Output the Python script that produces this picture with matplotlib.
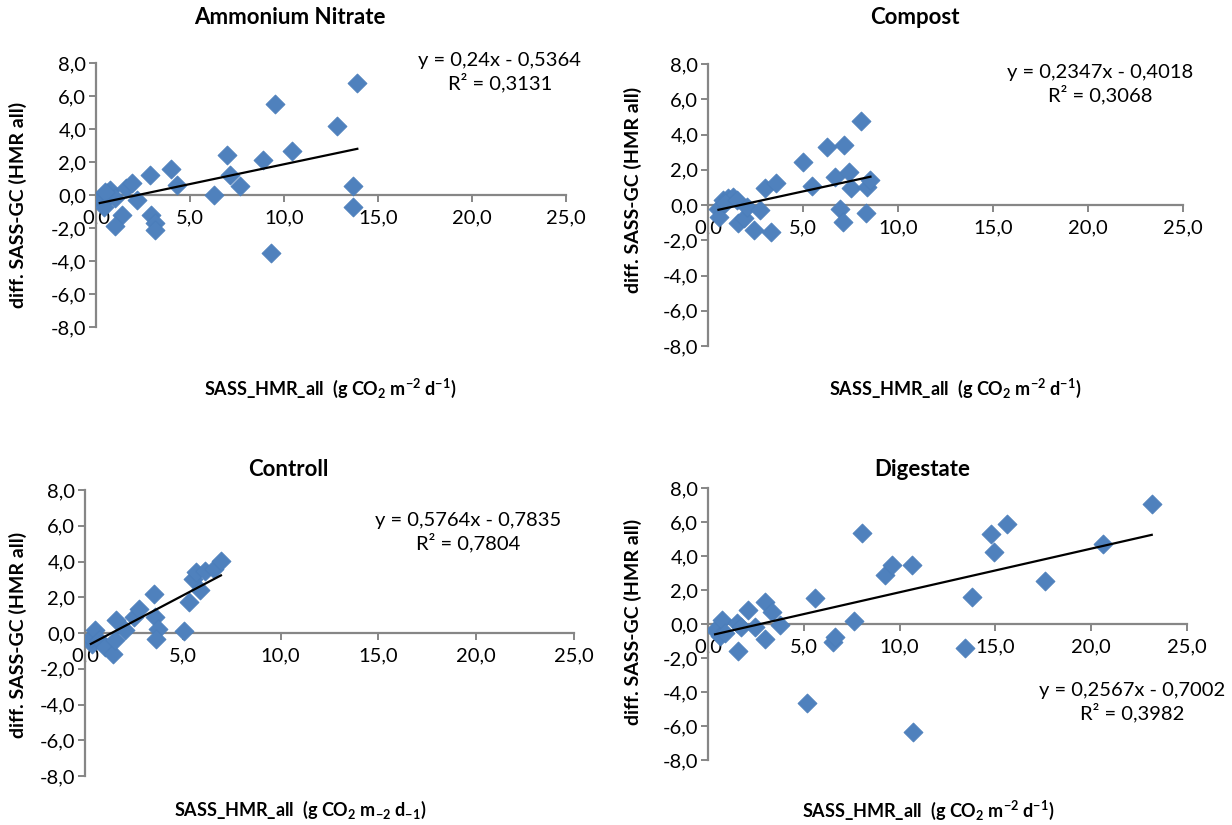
import matplotlib
matplotlib.use("Agg")
import matplotlib.pyplot as plt

plt.rcParams['font.family'] = ['Lato', 'DejaVu Sans']
plt.rcParams['mathtext.default'] = 'regular'

# data
titles = ["Ammonium Nitrate", "Compost", "Controll", "Digestate"]

an_x = [0.3, 0.2, 0.4, 0.6, 0.75, 1.0, 0.5, 1.4, 1.0, 1.6, 1.9, 2.2, 2.85, 2.9, 3.15, 3.15,
        4.0, 4.3, 6.3, 6.95, 7.15, 7.65, 8.9, 9.3, 9.5, 10.4, 12.8, 13.65, 13.65, 13.9]
an_y = [-0.5, -0.2, -0.7, 0.1, 0.3, -0.2, 0.2, -1.2, -1.9, 0.4, 0.7, -0.3, 1.2, -1.2, -1.7, -2.1,
        1.6, 0.6, 0.0, 2.4, 1.2, 0.55, 2.1, -3.5, 5.5, 2.65, 4.2, 0.55, -0.7, 6.8]

cp_x = [0.55, 0.6, 0.8, 1.05, 1.3, 0.9, 1.5, 1.6, 1.9, 2.05, 2.4, 2.75, 3.0, 3.3, 3.6, 5.0,
        5.45, 6.25, 6.7, 7.15, 7.4, 7.55, 6.95, 7.1, 8.05, 8.3, 8.35, 8.55]
cp_y = [-0.25, -0.66, 0.28, 0.4, 0.47, 0.1, 0.28, -1.0, -0.75, -0.1, -1.42, -0.28, 0.95, -1.55,
        1.23, 2.45, 1.06, 3.3, 1.6, 3.4, 1.85, 0.95, -0.2, -0.95, 4.75, -0.44, 1.04, 1.42]

ct_x = [0.34, 0.3, 0.5, 0.7, 1.0, 1.45, 1.55, 1.6, 2.05, 2.5, 2.75, 3.55, 3.6, 3.75, 3.65,
        5.05, 5.3, 5.5, 5.65, 5.9, 6.15, 6.6, 6.95]
ct_y = [-0.6, -0.3, 0.15, -0.4, -0.8, -1.2, -0.4, 0.7, 0.15, 0.9, 1.35, 2.2, 0.9, 0.25, -0.35,
        0.1, 1.75, 3.0, 3.4, 2.4, 3.45, 3.6, 4.05]

dg_x = [0.37, 0.63, 0.71, 0.89, 1.5, 1.58, 1.7, 2.1, 2.45, 2.97, 2.97, 3.33, 3.76, 5.17, 5.58,
        6.54, 6.63, 7.62, 8.05, 9.24, 9.58, 10.63, 10.71, 13.41, 13.8, 14.75, 14.93, 15.59,
        17.6, 20.63, 23.16]
dg_y = [-0.35, -0.7, 0.24, -0.55, 0.04, -1.57, -0.2, 0.82, -0.16, 1.31, -0.9, 0.72, -0.06,
        -4.63, 1.51, -1.08, -0.75, 0.2, 5.33, 2.88, 3.47, 3.47, -6.33, -1.43, 1.57, 5.29, 4.22,
        5.86, 2.53, 4.71, 7.06]

slopes = [0.24, 0.2347, 0.5764, 0.2567]
intercepts = [-0.5364, -0.4018, -0.7835, -0.7002]
equations = ["y = 0,24x - 0,5364", "y = 0,2347x - 0,4018", "y = 0,5764x - 0,7835", "y = 0,2567x - 0,7002"]
r2_texts = ["R² = 0,3131", "R² = 0,3068", "R² = 0,7804", "R² = 0,3982"]

xticks = [0, 5, 10, 15, 20, 25]
xtick_labels = ["0,0", "5,0", "10,0", "15,0", "20,0", "25,0"]
yticks = [-8, -6, -4, -2, 0, 2, 4, 6, 8]
ytick_labels = ["-8,0", "-6,0", "-4,0", "-2,0", "0,0", "2,0", "4,0", "6,0", "8,0"]

xlabels = [r"SASS_HMR_all  (g CO$_2$ m$^{-2}$ d$^{-1}$)",
           r"SASS_HMR_all  (g CO$_2$ m$^{-2}$ d$^{-1}$)",
           r"SASS_HMR_all  (g CO$_2$ m$_{-2}$ d$_{-1}$)",
           r"SASS_HMR_all  (g CO$_2$ m$^{-2}$ d$^{-1}$)"]
ylabel = "diff. SASS-GC (HMR all)"

xs = [an_x, cp_x, ct_x, dg_x]
ys = [an_y, cp_y, ct_y, dg_y]

W, H = 1232, 825
fig = plt.figure(figsize=(W / 100, H / 100), dpi=100)

# layout in pixels: left, right, top, bottom of the plot area
boxes = [(96, 566, 63, 327), (708, 1183, 64, 346), (85, 574, 490, 776), (708, 1187, 488, 760)]
title_pos = [(290, 18), (915, 18), (288, 470), (922, 470)]
xlabel_pos = [(330, 388), (955, 388), (300, 810), (928, 810)]
ylabel_pos = [(18, 205), (633, 190), (18, 635), (633, 622)]
eq_pos = [(500, 72), (1100, 84), (468, 532), (1132, 702)]

blue = "#4F81BD"
grey = "#868686"

for i in range(4):
    l, r, t, b = boxes[i]
    ax = fig.add_axes([l / W, 1 - b / H, (r - l) / W, (b - t) / H])
    ax.scatter(xs[i], ys[i], marker="D", s=95, color=blue, edgecolor="#4A7DBA",
               linewidth=0.5, zorder=3)
    x0, x1 = min(xs[i]), max(xs[i])
    ax.plot([x0, x1], [slopes[i] * x0 + intercepts[i], slopes[i] * x1 + intercepts[i]],
            color="black", lw=1.6, zorder=4)
    ax.set_xlim(0, 25)
    ax.set_ylim(-8, 8)
    ax.spines["top"].set_visible(False)
    ax.spines["right"].set_visible(False)
    ax.spines["bottom"].set_position(("data", 0))
    for s in ("left", "bottom"):
        ax.spines[s].set_color(grey)
        ax.spines[s].set_linewidth(1.6)
    ax.set_xticks(xticks)
    ax.set_xticklabels(xtick_labels)
    ax.set_yticks(yticks)
    ax.set_yticklabels(ytick_labels)
    ax.tick_params(axis="both", colors=grey, labelcolor="black", labelsize=14.5,
                   length=5, width=1.4, direction="out")
    ax.tick_params(axis="x", pad=5)
    ax.tick_params(axis="y", pad=2)
    ax.patch.set_alpha(0)

    fig.text(title_pos[i][0] / W, 1 - title_pos[i][1] / H, titles[i], ha="center",
             va="center", fontsize=16, fontweight="bold")
    fig.text(xlabel_pos[i][0] / W, 1 - xlabel_pos[i][1] / H, xlabels[i], ha="center",
             va="center", fontsize=13, fontweight="bold")
    fig.text(ylabel_pos[i][0] / W, 1 - ylabel_pos[i][1] / H, ylabel, ha="center",
             va="center", rotation=90, fontsize=14, fontweight="bold")
    fig.text(eq_pos[i][0] / W, 1 - eq_pos[i][1] / H, equations[i] + "\n" + r2_texts[i],
             ha="center", va="center", fontsize=14.5, linespacing=1.25)

fig.savefig("out.png", dpi=100)
